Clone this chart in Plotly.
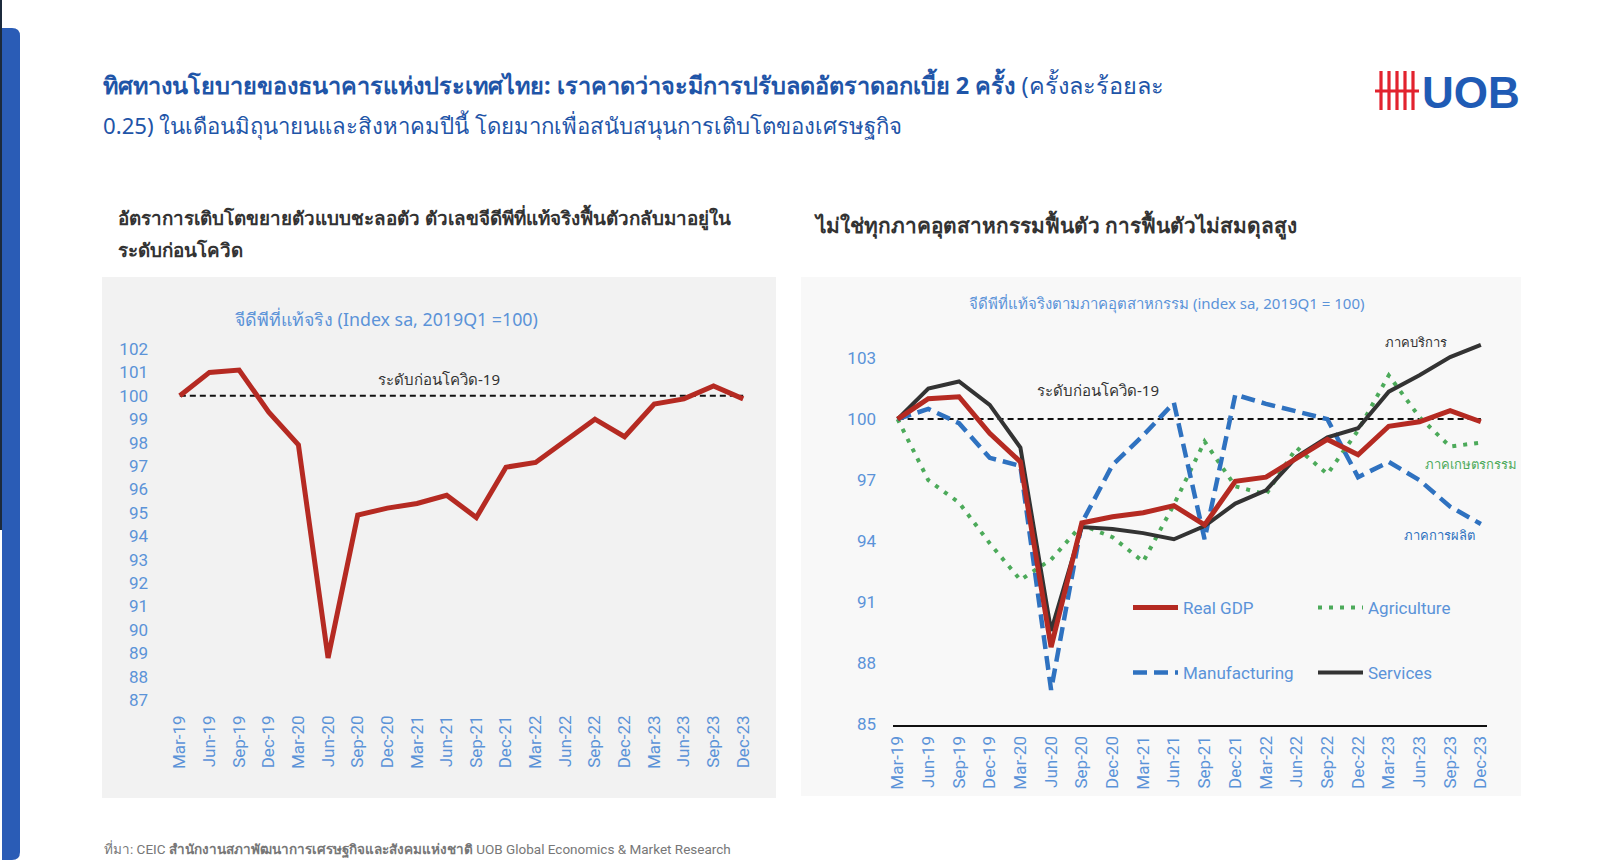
import plotly.graph_objects as go

# ---------------- data ----------------
quarters = ["Mar-19", "Jun-19", "Sep-19", "Dec-19", "Mar-20", "Jun-20", "Sep-20", "Dec-20",
            "Mar-21", "Jun-21", "Sep-21", "Dec-21", "Mar-22", "Jun-22", "Sep-22", "Dec-22",
            "Mar-23", "Jun-23", "Sep-23", "Dec-23"]
real_gdp = [100.0, 101.0, 101.1, 99.3, 97.9, 88.8, 94.9, 95.2, 95.4, 95.75, 94.8, 96.95,
            97.15, 98.1, 99.0, 98.25, 99.65, 99.87, 100.42, 99.87]
agriculture = [100.0, 97.0, 95.9, 93.9, 92.1, 93.1, 94.8, 94.2, 93.0, 95.8, 98.9, 96.7,
               96.3, 98.6, 97.3, 99.45, 102.15, 100.1, 98.65, 98.85]
manufacturing = [100.0, 100.5, 99.8, 98.1, 97.7, 86.7, 94.9, 97.75, 99.2, 100.8, 94.1, 101.2,
                 100.75, 100.4, 100.0, 97.15, 97.9, 97.0, 95.7, 94.85]
services = [100.0, 101.5, 101.85, 100.7, 98.6, 89.6, 94.7, 94.6, 94.4, 94.1, 94.75, 95.85,
            96.5, 98.15, 99.1, 99.55, 101.35, 102.15, 103.05, 103.65]
pre_covid_level = 100.0

left_yticks = list(range(87, 103))
right_yticks = [85, 88, 91, 94, 97, 100, 103]

# ---------------- helpers ----------------
W, H = 1600, 860
def px(x):
    return x / W
def py(y):
    return 1 - y / H

BLUE_TXT = "#5b93d8"
THAI = "Noto Sans, Noto Sans CJK SC, sans-serif"
NUM = "Liberation Sans Narrow, Roboto, sans-serif"

C_RED = "#b52a22"
C_GREEN = "#4caa5a"
C_BLUE = "#2f72c0"
C_BLACK = "#333333"

fig = go.Figure()

# left chart
fig.add_trace(go.Scatter(x=quarters, y=[pre_covid_level] * len(quarters), mode="lines",
                         line=dict(color="#111111", width=2, dash="6px,4px"),
                         showlegend=False, hoverinfo="skip", xaxis="x", yaxis="y"))
fig.add_trace(go.Scatter(x=quarters, y=real_gdp, mode="lines", name="Real GDP",
                         line=dict(color=C_RED, width=5), showlegend=False,
                         xaxis="x", yaxis="y"))

# right chart
fig.add_trace(go.Scatter(x=quarters, y=[pre_covid_level] * len(quarters), mode="lines",
                         line=dict(color="#111111", width=2, dash="6px,4px"),
                         showlegend=False, hoverinfo="skip", xaxis="x2", yaxis="y2"))
fig.add_trace(go.Scatter(x=quarters, y=agriculture, mode="lines", name="Agriculture",
                         line=dict(color=C_GREEN, width=4, dash="4px,7px"),
                         legend="legend", legendrank=2, xaxis="x2", yaxis="y2"))
fig.add_trace(go.Scatter(x=quarters, y=manufacturing, mode="lines", name="Manufacturing",
                         line=dict(color=C_BLUE, width=4.5, dash="14px,7px"),
                         legend="legend2", legendrank=1, xaxis="x2", yaxis="y2"))
fig.add_trace(go.Scatter(x=quarters, y=services, mode="lines", name="Services",
                         line=dict(color=C_BLACK, width=4), legend="legend2", legendrank=2,
                         xaxis="x2", yaxis="y2"))
fig.add_trace(go.Scatter(x=quarters, y=real_gdp, mode="lines", name="Real GDP",
                         line=dict(color=C_RED, width=5), legend="legend", legendrank=1,
                         xaxis="x2", yaxis="y2"))

axis_common = dict(showgrid=False, zeroline=False, ticks="", fixedrange=True)

fig.update_layout(
    width=W, height=H,
    margin=dict(l=0, r=0, t=0, b=0, autoexpand=False),
    paper_bgcolor="white",
    plot_bgcolor="rgba(0,0,0,0)",
    xaxis=dict(domain=[px(165), px(758)], anchor="y", type="category", range=[-0.5, 19.5],
               tickangle=-90, tickfont=dict(family=NUM, size=17, color=BLUE_TXT),
               showline=False, ticklabelstandoff=11, **axis_common),
    yaxis=dict(domain=[py(700), py(349)], anchor="x", range=[87, 102],
               tickvals=left_yticks, tickfont=dict(family=NUM, size=17, color=BLUE_TXT),
               showline=False, ticklabelstandoff=16, **axis_common),
    xaxis2=dict(domain=[px(893), px(1487)], anchor="y2", type="category", range=[-0.15, 19.2],
                tickangle=-90, tickfont=dict(family=NUM, size=17, color=BLUE_TXT),
                showline=True, linecolor="#111111", linewidth=1.5, ticklabelstandoff=3,
                **axis_common),
    yaxis2=dict(domain=[py(724.5), py(327.5)], anchor="x2", range=[85, 104.5],
                tickvals=right_yticks, tickfont=dict(family=NUM, size=17, color=BLUE_TXT),
                showline=False, ticklabelstandoff=16, **axis_common),
    legend=dict(orientation="h", x=px(1128), y=py(608), xanchor="left", yanchor="middle",
                bgcolor="rgba(0,0,0,0)", font=dict(family=NUM, size=17, color=BLUE_TXT),
                entrywidth=125, itemwidth=45, traceorder="normal"),
    legend2=dict(orientation="h", x=px(1128), y=py(673), xanchor="left", yanchor="middle",
                 bgcolor="rgba(0,0,0,0)", font=dict(family=NUM, size=17, color=BLUE_TXT),
                 entrywidth=125, itemwidth=45, traceorder="normal"),
    showlegend=True,
)

shapes = []
# left blue bar with rounded right corners
shapes.append(dict(type="path", xref="paper", yref="paper", layer="below",
                   path=f"M {px(2)},{py(28)} L {px(12)},{py(28)} Q {px(20)},{py(28)} {px(20)},{py(36)} "
                        f"L {px(20)},{py(852)} Q {px(20)},{py(860)} {px(12)},{py(860)} L {px(2)},{py(860)} Z",
                   fillcolor="#2a5cb6", line=dict(width=0)))
shapes.append(dict(type="rect", xref="paper", yref="paper", layer="below",
                   x0=0, x1=px(2), y0=py(530), y1=1, fillcolor="#1c2a3c", line=dict(width=0)))
# panel backgrounds
shapes.append(dict(type="rect", xref="paper", yref="paper", layer="below",
                   x0=px(102), x1=px(776), y0=py(798), y1=py(277),
                   fillcolor="#f2f2f2", line=dict(width=0)))
shapes.append(dict(type="rect", xref="paper", yref="paper", layer="below",
                   x0=px(801), x1=px(1521), y0=py(796), y1=py(277),
                   fillcolor="#f8f8f8", line=dict(width=0)))
# UOB logo hash
for xv in [1381, 1389, 1397, 1405, 1413]:
    shapes.append(dict(type="line", xref="paper", yref="paper", x0=px(xv), x1=px(xv),
                       y0=py(71), y1=py(110), line=dict(color="#e2232e", width=3.2)))
shapes.append(dict(type="line", xref="paper", yref="paper", x0=px(1375), x1=px(1419),
                   y0=py(91), y1=py(91), line=dict(color="#e2232e", width=3.2)))
fig.update_layout(shapes=shapes)

ann = []
def text(x, y, s, size, color, family=THAI, xanchor="left", yanchor="middle"):
    ann.append(dict(x=px(x), y=py(y), xref="paper", yref="paper", text=s, showarrow=False,
                    xanchor=xanchor, yanchor=yanchor, align="left",
                    font=dict(family=family, size=size, color=color)))

TITLE_C = "#1f55a8"
text(101, 84, "<b>ทิศทางนโยบายของธนาคารแห่งประเทศไทย: เราคาดว่าจะมีการปรับลดอัตราดอกเบี้ย 2 ครั้ง</b> (ครั้งละร้อยละ",
     23.5, TITLE_C)
text(101, 125, "0.25) ในเดือนมิถุนายนและสิงหาคมปีนี้ โดยมากเพื่อสนับสนุนการเติบโตของเศรษฐกิจ", 22.2, TITLE_C)
text(1420, 92, "<b>UOB</b>", 44, "#1f5bb5", family="Liberation Sans, Arial, sans-serif")

text(116, 217, "<b>อัตราการเติบโตขยายตัวแบบชะลอตัว ตัวเลขจีดีพีที่แท้จริงฟื้นตัวกลับมาอยู่ใน</b>", 18.8, "#333333")
text(116, 250, "<b>ระดับก่อนโควิด</b>", 18.8, "#333333")
text(812, 225, "<b>ไม่ใช่ทุกภาคอุตสาหกรรมฟื้นตัว การฟื้นตัวไม่สมดุลสูง</b>", 20.8, "#333333")

text(386, 319, "จีดีพีที่แท้จริง (Index sa, 2019Q1 =100)", 17.8, BLUE_TXT, xanchor="center")
text(439, 379, "ระดับก่อนโควิด-19", 15, "#333333", xanchor="center")

text(1167, 303, "จีดีพีที่แท้จริงตามภาคอุตสาหกรรม (index sa, 2019Q1 = 100)", 15, BLUE_TXT, xanchor="center")
text(1098, 390, "ระดับก่อนโควิด-19", 15, "#333333", xanchor="center")
text(1416, 342, "ภาคบริการ", 13, "#333333", xanchor="center")
text(1471, 464, "ภาคเกษตรกรรม", 13, C_GREEN, xanchor="center")
text(1439, 535, "ภาคการผลิต", 13, C_BLUE, xanchor="center")

text(102, 849, "ที่มา: CEIC <b>สำนักงานสภาพัฒนาการเศรษฐกิจและสังคมแห่งชาติ</b> UOB Global Economics & Market Research",
     13.5, "#777777", family="Liberation Sans Narrow, Roboto, sans-serif")

fig.update_layout(annotations=ann)

fig.write_html("out.html")
